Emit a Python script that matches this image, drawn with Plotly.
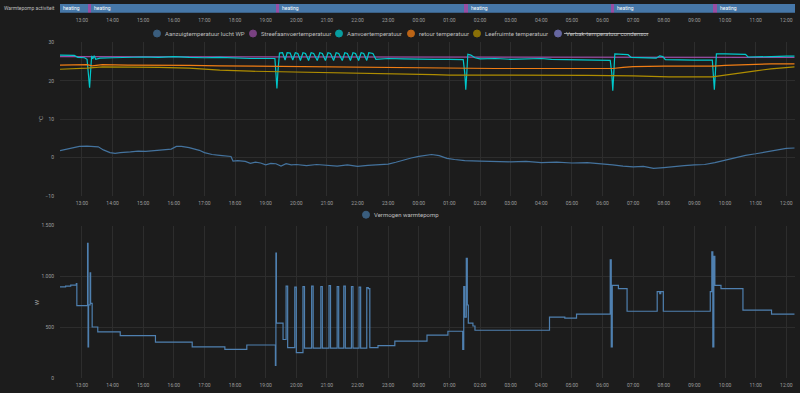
import plotly.graph_objects as go
from datetime import datetime

# ---------------- time window ----------------
DAY1 = "2024-01-15"
DAY2 = "2024-01-16"
WINDOW_START = "12:17"
X_RANGE = [f"{DAY1} 12:17", f"{DAY2} 12:17"]


def ts(hm):
    d = DAY2 if hm < WINDOW_START else DAY1
    return f"{d} {hm}"


# ---------------- timeline: Warmtepomp activiteit ----------------
timeline_label = "Warmtepomp activiteit"
tl_starts = ["12:17", "13:12", "13:18", "19:20", "19:26", "01:29", "01:36",
             "06:17", "06:23", "09:37", "09:44"]
tl_states = ["heating", "defrosting", "heating", "defrosting", "heating", "defrosting",
             "heating", "defrosting", "heating", "defrosting", "heating"]

# ---------------- temperature chart ----------------
temp_names = ["Aanzuigtemperatuur lucht WP", "Streefaanvoertemperatuur", "Aanvoertemperatuur",
              "retour temperatuur", "Leefruimte temperatuur", "Verbak-temperatuur condensor"]
temp_ticks = [-10, 0, 10, 20, 30]
temp_unit = "°C"

aanzuig_t = ["12:17", "12:25", "12:35", "12:45", "12:55", "13:10", "13:25", "13:32", "13:42", "13:55",
             "14:05", "14:15", "14:35", "14:50", "15:05", "15:25", "15:35", "15:45", "15:55", "16:05",
             "16:15", "16:30", "16:40", "16:50", "17:00", "17:15", "17:30", "17:45", "17:52", "17:56",
             "18:05", "18:20", "18:30", "18:40", "18:50", "19:00", "19:10", "19:20", "19:30", "19:40",
             "19:50", "20:00", "20:20", "20:40", "21:00", "21:20", "21:40", "22:00", "22:20", "22:40",
             "23:00", "23:15", "23:30", "23:45", "00:00", "00:15", "00:25", "00:40", "00:55", "01:10",
             "01:30", "02:00", "02:30", "03:00", "03:30", "04:00", "04:30", "05:00", "05:30", "06:00",
             "06:20", "06:40", "07:00", "07:20", "07:40", "08:00", "08:20", "08:40", "09:00", "09:20",
             "09:40", "10:00", "10:20", "10:40", "11:00", "11:20", "11:40", "12:00", "12:16"]
aanzuig_v = [1.8, 2.0, 2.3, 2.6, 2.9, 3.0, 2.9, 2.8, 2.0, 1.3,
             1.1, 1.3, 1.5, 1.7, 1.6, 1.8, 1.9, 2.1, 2.2, 2.9,
             2.9, 2.6, 2.3, 1.9, 1.3, 0.8, 0.6, 0.4, 0.3, -0.9,
             -0.8, -1.0, -1.5, -1.2, -1.4, -1.9, -1.5, -1.6, -2.2, -1.6,
             -1.9, -1.8, -2.1, -1.8, -2.0, -2.2, -1.9, -2.3, -2.0, -1.8,
             -1.7, -1.2, -0.6, -0.1, 0.3, 0.7, 0.8, 0.5, -0.2, -0.5,
             -0.8, -0.9, -1.0, -1.1, -1.0, -1.3, -1.2, -1.4, -1.3, -1.6,
             -1.9, -2.2, -2.4, -2.3, -2.8, -2.6, -2.3, -2.1, -1.9, -1.8,
             -1.3, -0.6, 0.1, 0.6, 1.0, 1.5, 1.9, 2.4, 2.5]

streef_t = ["12:17", "19:00", "01:00", "07:00", "12:16"]
streef_v = [26.3, 26.2, 26.1, 26.1, 26.1]

aanvoer_t = ["12:17", "12:30", "12:45", "12:52", "13:05", "13:10", "13:13", "13:15", "13:17", "13:19",
             "13:21", "13:24", "13:27", "13:35", "14:00", "14:30", "15:00", "15:30", "16:00", "16:30",
             "17:00", "17:30", "18:00", "18:30", "19:00", "19:18", "19:20", "19:22", "19:24", "19:27",
             "19:33", "19:38", "19:42", "19:48", "19:53", "19:58", "20:03", "20:08", "20:13", "20:18",
             "20:24", "20:29", "20:34", "20:41", "20:46", "20:51", "20:57", "21:02", "21:07", "21:13",
             "21:18", "21:23", "21:30", "21:35", "21:40", "21:46", "21:51", "21:56", "22:02", "22:07",
             "22:12", "22:18", "22:22", "22:30", "22:36", "22:45", "23:00", "23:30", "00:00", "00:30",
             "01:00", "01:27", "01:30", "01:32", "01:34", "01:36", "01:42", "01:50", "02:00", "02:30",
             "03:00", "03:30", "04:00", "04:20", "05:00", "05:30", "06:00", "06:15", "06:18", "06:20",
             "06:22", "06:24", "06:40", "06:50", "06:56", "07:20", "07:45", "07:52", "07:58", "08:03",
             "08:30", "09:00", "09:35", "09:37", "09:39", "09:41", "09:43", "10:00", "10:40", "10:45",
             "11:00", "11:30", "12:00", "12:16"]
aanvoer_v = [26.7, 26.7, 26.6, 26.1, 26.0, 25.6, 21.5, 18.2, 22.5, 26.5,
             25.7, 26.5, 25.6, 25.9, 26.0, 26.1, 26.2, 26.1, 26.3, 26.1,
             26.0, 26.1, 25.9, 25.8, 25.8, 25.8, 22.0, 18.0, 22.5, 27.2,
             27.3, 25.4, 27.3, 27.2, 25.4, 27.3, 27.1, 25.3, 27.3, 27.1,
             25.3, 27.3, 27.1, 25.3, 27.3, 27.1, 25.3, 27.3, 27.1, 25.3,
             27.3, 27.1, 25.3, 27.3, 27.1, 25.3, 27.3, 27.1, 25.3, 27.3,
             27.1, 25.3, 27.3, 27.1, 25.6, 25.7, 25.8, 25.7, 25.6, 25.6,
             25.6, 25.5, 22.0, 17.7, 22.0, 26.9, 26.7, 26.0, 25.7, 25.8,
             25.6, 25.7, 25.8, 25.6, 25.5, 25.6, 25.4, 25.3, 22.0, 17.4,
             22.0, 27.0, 26.9, 26.8, 26.1, 26.0, 25.9, 26.5, 26.3, 25.5,
             25.4, 25.4, 25.4, 22.0, 17.7, 22.0, 27.0, 27.0, 26.9, 26.2,
             26.2, 26.3, 26.4, 26.4]

retour_t = ["12:17", "13:10", "13:20", "13:40", "14:30", "15:30", "16:30", "17:30", "18:30", "19:20",
            "20:00", "21:00", "22:00", "23:00", "00:00", "01:00", "01:35", "02:30", "03:30", "04:30",
            "05:30", "06:20", "06:40", "07:00", "08:00", "09:00", "09:38", "10:00", "10:30", "11:00",
            "11:30", "12:16"]
retour_v = [24.1, 24.2, 23.9, 24.2, 24.1, 24.1, 24.0, 23.9, 23.8, 23.8,
            23.8, 23.7, 23.6, 23.5, 23.3, 23.2, 23.2, 23.2, 23.2, 23.2,
            23.2, 23.2, 23.5, 23.7, 23.8, 23.8, 23.8, 24.0, 24.2, 24.3,
            24.4, 24.4]

leef_t = ["12:17", "12:40", "13:10", "13:40", "14:30", "15:30", "16:30", "17:00", "17:30", "18:30",
          "19:20", "20:00", "21:00", "22:00", "23:00", "00:00", "00:30", "01:00", "02:30", "04:00",
          "05:30", "07:00", "07:50", "08:10", "09:35", "10:00", "10:30", "11:00", "11:30", "12:00",
          "12:16"]
leef_v = [23.0, 23.1, 23.3, 23.6, 23.6, 23.5, 23.3, 23.0, 22.8, 22.5,
          22.4, 22.3, 22.1, 21.9, 21.8, 21.7, 21.6, 21.5, 21.5, 21.5,
          21.4, 21.3, 21.1, 21.0, 21.0, 21.5, 22.1, 22.6, 23.1, 23.5,
          23.6]

# ---------------- power chart ----------------
power_name = "Vermogen warmtepomp"
power_unit = "W"
power_ticks = [0, 500, 1000, 1500]
power_ticktext = ["0", "500", "1.000", "1.500"]
power_t = ["12:17", "12:28", "12:38", "12:49", "12:50", "13:10", "13:11", "13:12", "13:13", "13:16",
           "13:17", "13:20", "13:31", "14:15", "15:24", "16:36", "17:40", "18:23", "19:19", "19:20",
           "19:21", "19:34", "19:40", "19:43", "19:57", "20:00", "20:13", "20:16", "20:30", "20:33",
           "20:48", "20:51", "21:04", "21:07", "21:20", "21:23", "21:33", "21:36", "21:48", "21:51",
           "22:03", "22:06", "22:18", "22:21", "22:24", "22:40", "23:13", "00:16", "00:57", "01:26",
           "01:28", "01:30", "01:33", "01:35", "01:37", "01:46", "01:50", "04:16", "04:46", "05:09",
           "06:15", "06:17", "06:19", "06:31", "06:48", "07:47", "07:52", "07:54", "07:59", "09:31",
           "09:34", "09:36", "09:38", "09:40", "09:52", "10:35", "11:31", "12:16"]
power_v = [897, 905, 915, 929, 713, 713, 1326, 307, 720, 1035,
           735, 503, 455, 419, 355, 307, 284, 326, 126, 1229,
           542, 380, 905, 300, 895, 252, 900, 295, 905, 295,
           900, 295, 910, 295, 900, 295, 905, 295, 900, 295,
           895, 295, 890, 880, 300, 320, 365, 423, 461, 284,
           900, 600, 1177, 719, 542, 513, 471, 600, 590, 629,
           1164, 307, 912, 880, 658, 850, 830, 850, 658, 850,
           1242, 307, 1197, 912, 880, 668, 629, 629]

# ---------------- style ----------------
BG = "#1c1c1c"
GRID = "#2d2d2d"
TICK = "#9c9c9c"
LEG = "#bdbdbd"
FONT = "Roboto"
STATE_COLORS = {"heating": "#4677a8", "defrosting": "#984ea3"}
TEMP_COLORS = ["#44739e", "#984ea3", "#00c8cb", "#f07d14", "#af8d00", "#7f80cd"]
POWER_COLOR = "#4f80b0"

W, H = 800, 393
X0, X1 = 60, 795


def py(p):
    return 1 - p / H


fig = go.Figure()

# timeline bars
starts_dt = [datetime.strptime(ts(s), "%Y-%m-%d %H:%M") for s in tl_starts]
end_dt = datetime.strptime(X_RANGE[1], "%Y-%m-%d %H:%M")
ends_dt = starts_dt[1:] + [end_dt]
durations = [(e - s).total_seconds() * 1000 for s, e in zip(starts_dt, ends_dt)]
fig.add_trace(go.Bar(
    orientation="h", base=[ts(s) for s in tl_starts], x=durations, y=[0] * len(tl_starts),
    marker=dict(color=[STATE_COLORS[s] for s in tl_states], line=dict(width=0)),
    text=[s if s == "heating" else "" for s in tl_states],
    textposition="inside", insidetextanchor="start", constraintext="none", textangle=0,
    textfont=dict(family=FONT, size=5, color="#ffffff"),
    width=1, xaxis="x", yaxis="y", showlegend=False, hoverinfo="skip",
))

# temperature lines (Verbak series is hidden in the reference)
series = [(aanzuig_t, aanzuig_v), (streef_t, streef_v), (aanvoer_t, aanvoer_v),
          (retour_t, retour_v), (leef_t, leef_v)]
for i, (tt, vv) in enumerate(series):
    fig.add_trace(go.Scatter(
        x=[ts(t) for t in tt], y=vv, mode="lines", name=temp_names[i],
        line=dict(color=TEMP_COLORS[i], width=1.2), xaxis="x2", yaxis="y2", showlegend=False,
    ))

fig.add_trace(go.Scatter(
    x=[ts(t) for t in power_t], y=power_v, mode="lines", name=power_name,
    line=dict(color=POWER_COLOR, width=1.2, shape="hv"), xaxis="x3", yaxis="y3", showlegend=False,
))

xcommon = dict(type="date", range=X_RANGE, tickformat="%H:%M", dtick=3600000, tick0=f"{DAY1} 00:00",
               showline=False, zeroline=False, tickfont=dict(family=FONT, size=5, color=TICK),
               ticks="outside", ticklen=2, tickcolor="rgba(0,0,0,0)", domain=[X0 / W, X1 / W],
               fixedrange=True)
ycommon = dict(showline=False, zeroline=False, tickfont=dict(family=FONT, size=5, color=TICK),
               ticks="outside", ticklen=4, tickcolor="rgba(0,0,0,0)", gridcolor=GRID, gridwidth=1,
               fixedrange=True)

fig.update_layout(
    width=W, height=H, margin=dict(l=0, r=0, t=0, b=0),
    paper_bgcolor=BG, plot_bgcolor=BG, showlegend=False, bargap=0,
    font=dict(family=FONT, size=5, color=TICK),
    xaxis=dict(**xcommon, anchor="y", showgrid=False),
    yaxis=dict(domain=[py(10), py(1)], range=[-0.5, 0.5], visible=False, fixedrange=True),
    xaxis2=dict(**xcommon, anchor="y2", showgrid=True, gridcolor=GRID),
    yaxis2=dict(**ycommon, anchor="x2", domain=[py(196), py(40)], range=[-10, 30], tickvals=temp_ticks),
    xaxis3=dict(**xcommon, anchor="y3", showgrid=True, gridcolor=GRID),
    yaxis3=dict(**ycommon, anchor="x3", domain=[py(381), py(226)], range=[0, 1500],
                tickvals=power_ticks, ticktext=power_ticktext),
)

annotations = []
shapes = []
annotations.append(dict(text=timeline_label, x=57 / W, y=py(5.5), xref="paper", yref="paper",
                        xanchor="right", yanchor="middle", showarrow=False,
                        font=dict(family=FONT, size=5, color=LEG)))
annotations.append(dict(text=temp_unit, x=40 / W, y=py(118), xref="paper", yref="paper", textangle=-90,
                        xanchor="center", yanchor="middle", showarrow=False,
                        font=dict(family=FONT, size=6, color=TICK)))
annotations.append(dict(text=power_unit, x=36 / W, y=py(304), xref="paper", yref="paper", textangle=-90,
                        xanchor="center", yanchor="middle", showarrow=False,
                        font=dict(family=FONT, size=6, color=TICK)))


def legend_item(cx, cy, color, label, strike_px=None):
    shapes.append(dict(type="circle", xref="paper", yref="paper", xsizemode="pixel", ysizemode="pixel",
                       xanchor=cx / W, yanchor=py(cy), x0=-3.5, x1=3.5, y0=-3.5, y1=3.5,
                       fillcolor=color, opacity=0.75, line=dict(color=color, width=1)))
    annotations.append(dict(text=label, x=(cx + 6) / W, y=py(cy), xref="paper", yref="paper",
                            xanchor="left", yanchor="middle", showarrow=False,
                            font=dict(family=FONT, size=6, color=LEG)))
    if strike_px:
        shapes.append(dict(type="line", xref="paper", yref="paper", x0=(cx + 6) / W,
                           x1=(cx + 6 + strike_px) / W, y0=py(cy), y1=py(cy),
                           line=dict(color=LEG, width=0.8)))


LEGEND1_X = [157, 253, 339, 411, 477, 558]
for i, name in enumerate(temp_names):
    legend_item(LEGEND1_X[i], 31, TEMP_COLORS[i], name, strike_px=84 if i == 5 else None)
legend_item(366, 215, TEMP_COLORS[0], power_name)

fig.update_layout(annotations=annotations, shapes=shapes)

fig.write_html(
    "out.html",
    config={"displayModeBar": False},
    post_script="document.body.style.margin='0';document.body.style.background='#1c1c1c';",
)
